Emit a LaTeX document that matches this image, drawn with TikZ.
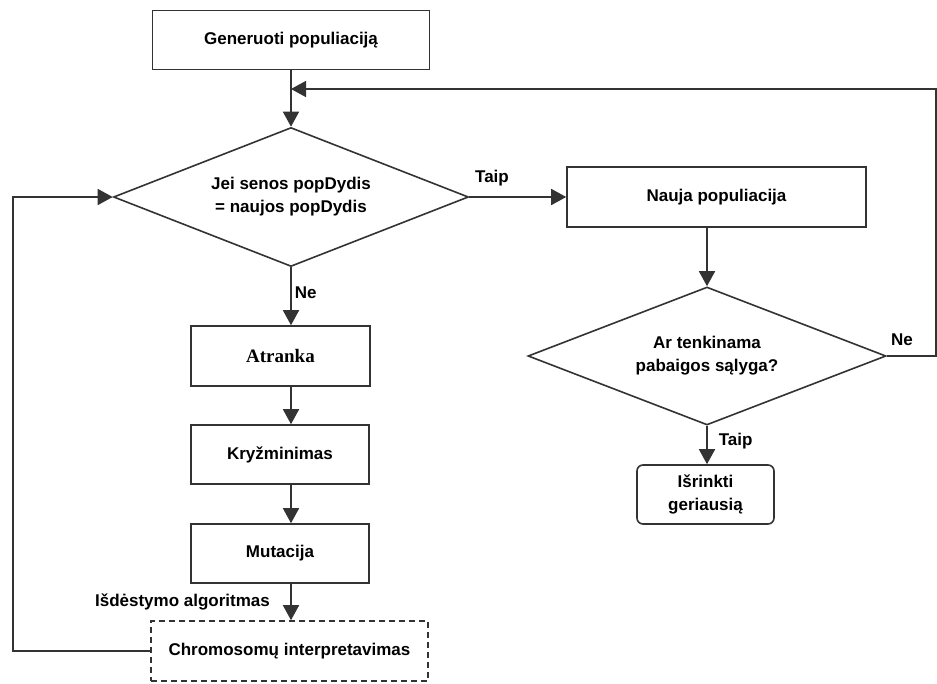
\documentclass[tikz,border=0pt]{standalone}
\usepackage{fontspec}
\setmainfont{Liberation Sans}
\newfontfamily\timesfont{Liberation Serif}
\usetikzlibrary{shapes.geometric,arrows.meta}

\begin{document}
\begin{tikzpicture}[x=1pt, y=-1pt, font=\fontsize{17}{23}\selectfont\bfseries,
        line width=1.6pt,
        box/.style={draw=black!80, rectangle, inner sep=0pt, align=center},
        cond/.style={draw=black!80, diamond, aspect=2.5, inner sep=0pt, align=center},
        flow/.style={draw=black!80, -{Triangle[length=15pt,width=16pt]}},
        wire/.style={draw=black!80}]
        \useasboundingbox (0,0) rectangle (937,683);
        \node[box, minimum width=277, minimum height=59] (gen) at (291,40) {Generuoti populiaciją};
        \node[cond, minimum width=355, minimum height=139] (d1) at (291,197) {Jei senos popDydis\\= naujos popDydis};
        \node[box, minimum width=299, minimum height=60] (nauja) at (716.5,197) {Nauja populiacija};
        \node[cond, minimum width=358, minimum height=138] (d2) at (707,356) {Ar tenkinama\\pabaigos sąlyga?};
        \node[box, rounded corners=6pt, minimum width=137, minimum height=59] (best) at (705.5,494.5) {Išrinkti\\geriausią};
        \node[box, minimum width=179, minimum height=60, font=\fontsize{19}{23}\selectfont\timesfont\bfseries] (sel) at (280.5,356) {Atranka};
        \node[box, minimum width=178, minimum height=59] (cross) at (280,454.5) {Kryžminimas};
        \node[box, minimum width=178, minimum height=59] (mut) at (280,553.5) {Mutacija};
        \node[box, dashed, dash pattern=on 6pt off 4pt, minimum width=277, minimum height=60] (interp) at (289.5,651) {Chromosomų interpretavimas};
        \node (yes1) at (492,178) {Taip};
        \node[anchor=west, inner sep=0pt] (no1) at (294,293) {Ne};
        \node (no2) at (902,340) {Ne};
        \node[anchor=west, inner sep=0pt] (yes2) at (718,441) {Taip};
        \node (algo) at (182.5,602) {Išdėstymo algoritmas};
        \coordinate (merge) at (291,89);
        \coordinate (loop) at (936,356);
        \coordinate (back) at (13,651);
        \draw[flow] (gen) -- (d1);
        \draw[flow] (d1.east) -- (nauja.west);
        \draw[flow] (d2.north |- nauja.south) -- (d2.north);
        \draw[flow] (d2.south) -- (d2.south |- best.north);
        \draw[flow] (d2.east) -- (loop) |- (merge);
        \draw[flow] (d1.south) -- (d1.south |- sel.north);
        \draw[flow] (d1.south |- sel.south) -- (d1.south |- cross.north);
        \draw[flow] (d1.south |- cross.south) -- (d1.south |- mut.north);
        \draw[flow] (d1.south |- mut.south) -- (d1.south |- interp.north);
        \draw[flow] (interp.west) -- (back) |- (d1.west);
    \end{tikzpicture}
\end{document}
